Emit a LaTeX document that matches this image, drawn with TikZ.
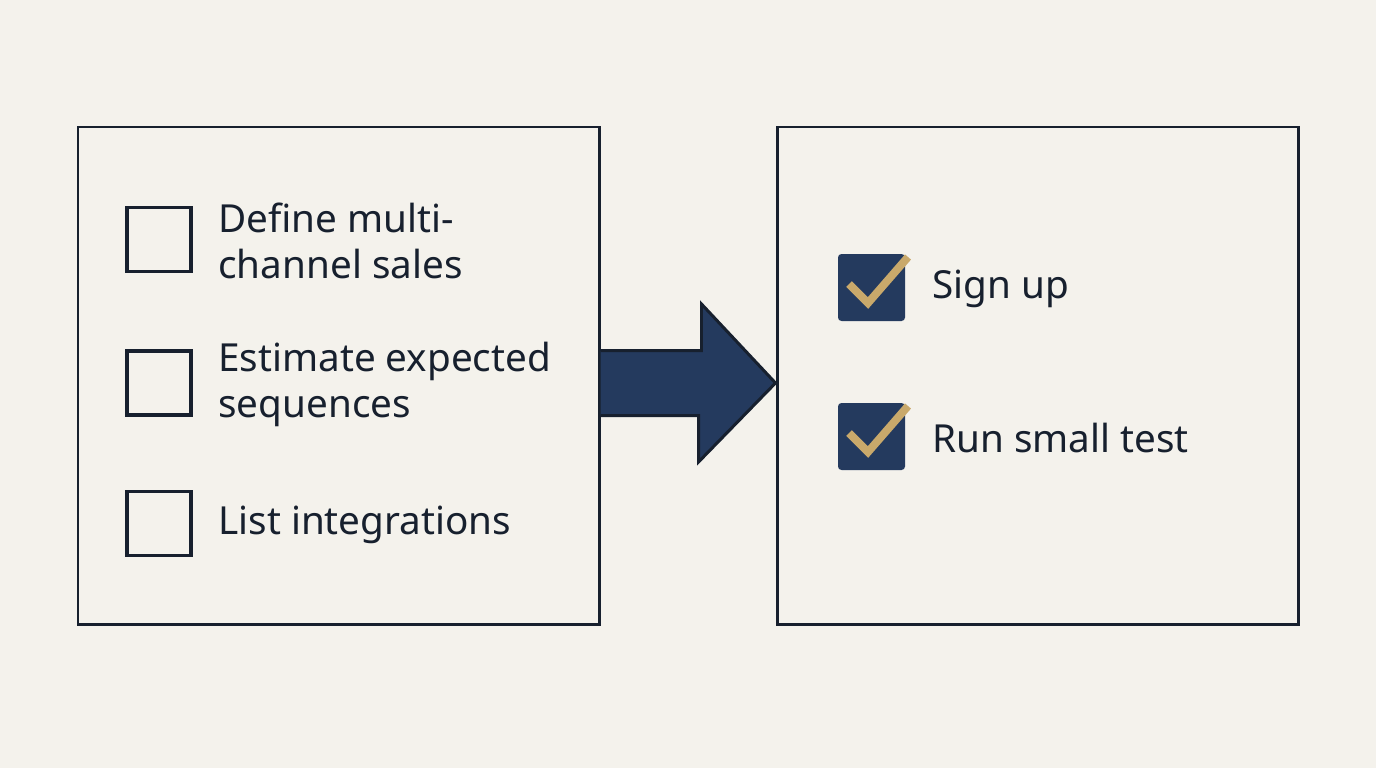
\documentclass[tikz,border=0pt]{standalone}
\usepackage{fontspec}
\setmainfont{Noto Sans}
\definecolor{bgcol}{HTML}{F4F2EC}
\definecolor{ink}{HTML}{17202E}
\definecolor{navy}{HTML}{243A5E}
\definecolor{gold}{HTML}{C9A96B}
\begin{document}
\begin{tikzpicture}[x=0.02cm, y=-0.02cm,
  panel/.style={draw=ink, line width=1.7pt, minimum width=521*0.02cm,
    minimum height=497*0.02cm, inner sep=0pt},
  openbox/.style={draw=ink, line width=1.9pt, minimum size=64*0.02cm, inner sep=0pt},
  donebox/.style={fill=navy, rounded corners=2pt, minimum size=67*0.02cm, inner sep=0pt},
  item/.style={anchor=west, align=left, inner sep=0pt, text=ink,
    font=\fontsize{22pt}{26.6pt}\selectfont},
  tick/.style={draw=gold, line width=4.5pt}
]
  \fill[bgcol] (0,0) rectangle (1376,768);

  \node[panel] (todo) at (338.5,375.5) {};
  \node[panel] (done) at (1037.5,375.5) {};

  \node[openbox] (b1) at (159,239.5) {};
  \node[openbox] (b2) at (159,383) {};
  \node[openbox] (b3) at (159,523.5) {};
  \node[item] (t1) at (218,241) {Define multi-\\channel sales};
  \node[item] (t2) at (218,384.5) {Estimate expected\\sequences};
  \node[item] (t3) at (218,525) {List integrations};

  \node[donebox] (c1) at (871.5,287.5) {};
  \node[donebox] (c2) at (871.5,436.5) {};
  \draw[tick] ([shift={(-22.5,-3.5)}]c1.center) -- ([shift={(-3.5,15.5)}]c1.center)
    -- ([shift={(36.5,-30.5)}]c1.center);
  \draw[tick] ([shift={(-22.5,-3.5)}]c2.center) -- ([shift={(-3.5,15.5)}]c2.center)
    -- ([shift={(36.5,-30.5)}]c2.center);
  \node[item] (s1) at (932,289) {Sign up};
  \node[item] (s2) at (932,438) {Run small test};

  \coordinate (tail) at (todo.east |- b2);
  \coordinate (tip) at (done.west |- b2);
  \draw[fill=navy, draw=ink, line width=1.7pt, line join=miter]
    ([shift={(0,-32.5)}]tail) -- ++(101,0) -- ++(0,-46.5)
    -- (tip) -- ++(-77,79) -- ++(0,-46.5) -- ([shift={(0,32.5)}]tail);
\end{tikzpicture}
\end{document}
